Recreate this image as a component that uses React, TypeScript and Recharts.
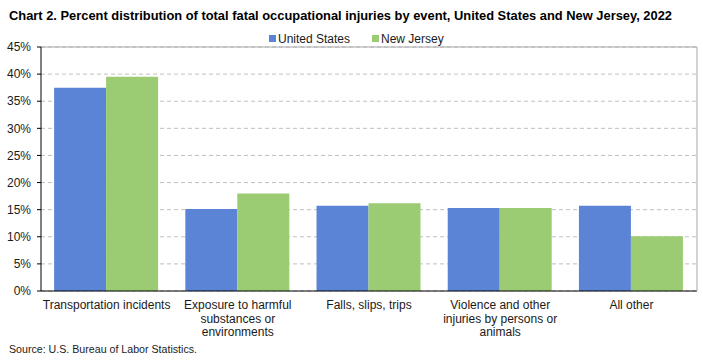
import React from 'react';
import { BarChart, Bar, XAxis, YAxis, CartesianGrid, Legend, ReferenceLine } from 'recharts';

const categories = [
  'Transportation incidents',
  'Exposure to harmful substances or environments',
  'Falls, slips, trips',
  'Violence and other injuries by persons or animals',
  'All other',
];
const categoryLines = [
  ['Transportation incidents'],
  ['Exposure to harmful', 'substances or', 'environments'],
  ['Falls, slips, trips'],
  ['Violence and other', 'injuries by persons or', 'animals'],
  ['All other'],
];
const unitedStates = [37.5, 15.1, 15.7, 15.3, 15.7];
const newJersey = [39.5, 18.0, 16.2, 15.3, 10.1];
const yTicks = [0, 5, 10, 15, 20, 25, 30, 35, 40, 45];
const seriesNames = ['United States', 'New Jersey'];
const colors = ['#5B84D6', '#9BCB72'];
const titleText =
  'Chart 2. Percent distribution of total fatal occupational injuries by event, United States and New Jersey, 2022';
const sourceText = 'Source: U.S. Bureau of Labor Statistics.';

const data = categories.map((c, i) => ({
  name: c,
  us: unitedStates[i],
  nj: newJersey[i],
}));

const SANS = '"Liberation Sans", Arial, sans-serif';
const TEXT = '#1a1a1a';

const XTick = (props: any) => {
  const { x, y, payload } = props;
  const idx = categories.indexOf(payload.value);
  const lines = idx >= 0 ? categoryLines[idx] : [payload.value];
  return (
    <g>
      {lines.map((l: string, i: number) => (
        <text key={i} x={x} y={y + 10 + i * 13.5} textAnchor="middle" fontFamily={SANS} fontSize={12} fill={TEXT}>
          {l}
        </text>
      ))}
    </g>
  );
};

const LegendContent = () => (
  <svg width={703} height={20} style={{ display: 'block' }}>
    {seriesNames.map((n, i) => {
      const left = i === 0 ? 269 : 372;
      return (
        <g key={n}>
          <rect x={left} y={7} width={7} height={7} fill={colors[i]} />
          <text x={left + 9} y={15} fontFamily={SANS} fontSize={12} fill={TEXT}>
            {n}
          </text>
        </g>
      );
    })}
  </svg>
);

export default function App() {
  return (
    <div style={{ position: 'absolute', left: 0, top: 0, width: 703, height: 360, background: '#fff' }}>
      <BarChart
        width={703}
        height={360}
        data={data}
        margin={{ top: 27, right: 5, bottom: 0, left: 0 }}
        barCategoryGap="10%"
        barGap={0}
      >
        <CartesianGrid vertical={false} stroke="#BFBFBF" strokeDasharray="4 3" yAxisId="left" />
        <XAxis dataKey="name" axisLine={{ stroke: '#000' }} tickLine={false} height={69} interval={0} tick={<XTick />} />
        <YAxis
          yAxisId="left"
          domain={[0, 45]}
          ticks={yTicks}
          width={41}
          tickSize={4}
          tickMargin={6}
          axisLine={{ stroke: '#000' }}
          tickLine={{ stroke: '#000' }}
          tickFormatter={(v: number) => `${v}%`}
          tick={{ fontFamily: SANS, fontSize: 12, fill: TEXT }}
        />
        <YAxis
          yAxisId="right"
          orientation="right"
          width={1}
          tick={false}
          tickLine={false}
          axisLine={{ stroke: '#A6A6A6' }}
          domain={[0, 45]}
        />
        <ReferenceLine yAxisId="left" y={45} stroke="#A6A6A6" strokeWidth={1} />
        <Legend
          layout="vertical"
          verticalAlign="top"
          align="center"
          content={<LegendContent />}
          wrapperStyle={{ position: 'absolute', top: 28, left: 0, width: 703 }}
        />
        <Bar yAxisId="left" dataKey="us" name={seriesNames[0]} fill={colors[0]} isAnimationActive={false} />
        <Bar yAxisId="left" dataKey="nj" name={seriesNames[1]} fill={colors[1]} isAnimationActive={false} />
      </BarChart>
      <svg width={703} height={360} style={{ position: 'absolute', left: 0, top: 0, pointerEvents: 'none' }}>
        <text
          x={9}
          y={20}
          fontFamily={SANS}
          fontWeight="bold"
          fontSize={13}
          fill="#000"
          textLength={663}
          lengthAdjust="spacingAndGlyphs"
        >
          {titleText}
        </text>
        <text x={9} y={353} fontFamily={SANS} fontSize={11} fill={TEXT} textLength={188} lengthAdjust="spacingAndGlyphs">
          {sourceText}
        </text>
      </svg>
    </div>
  );
}
